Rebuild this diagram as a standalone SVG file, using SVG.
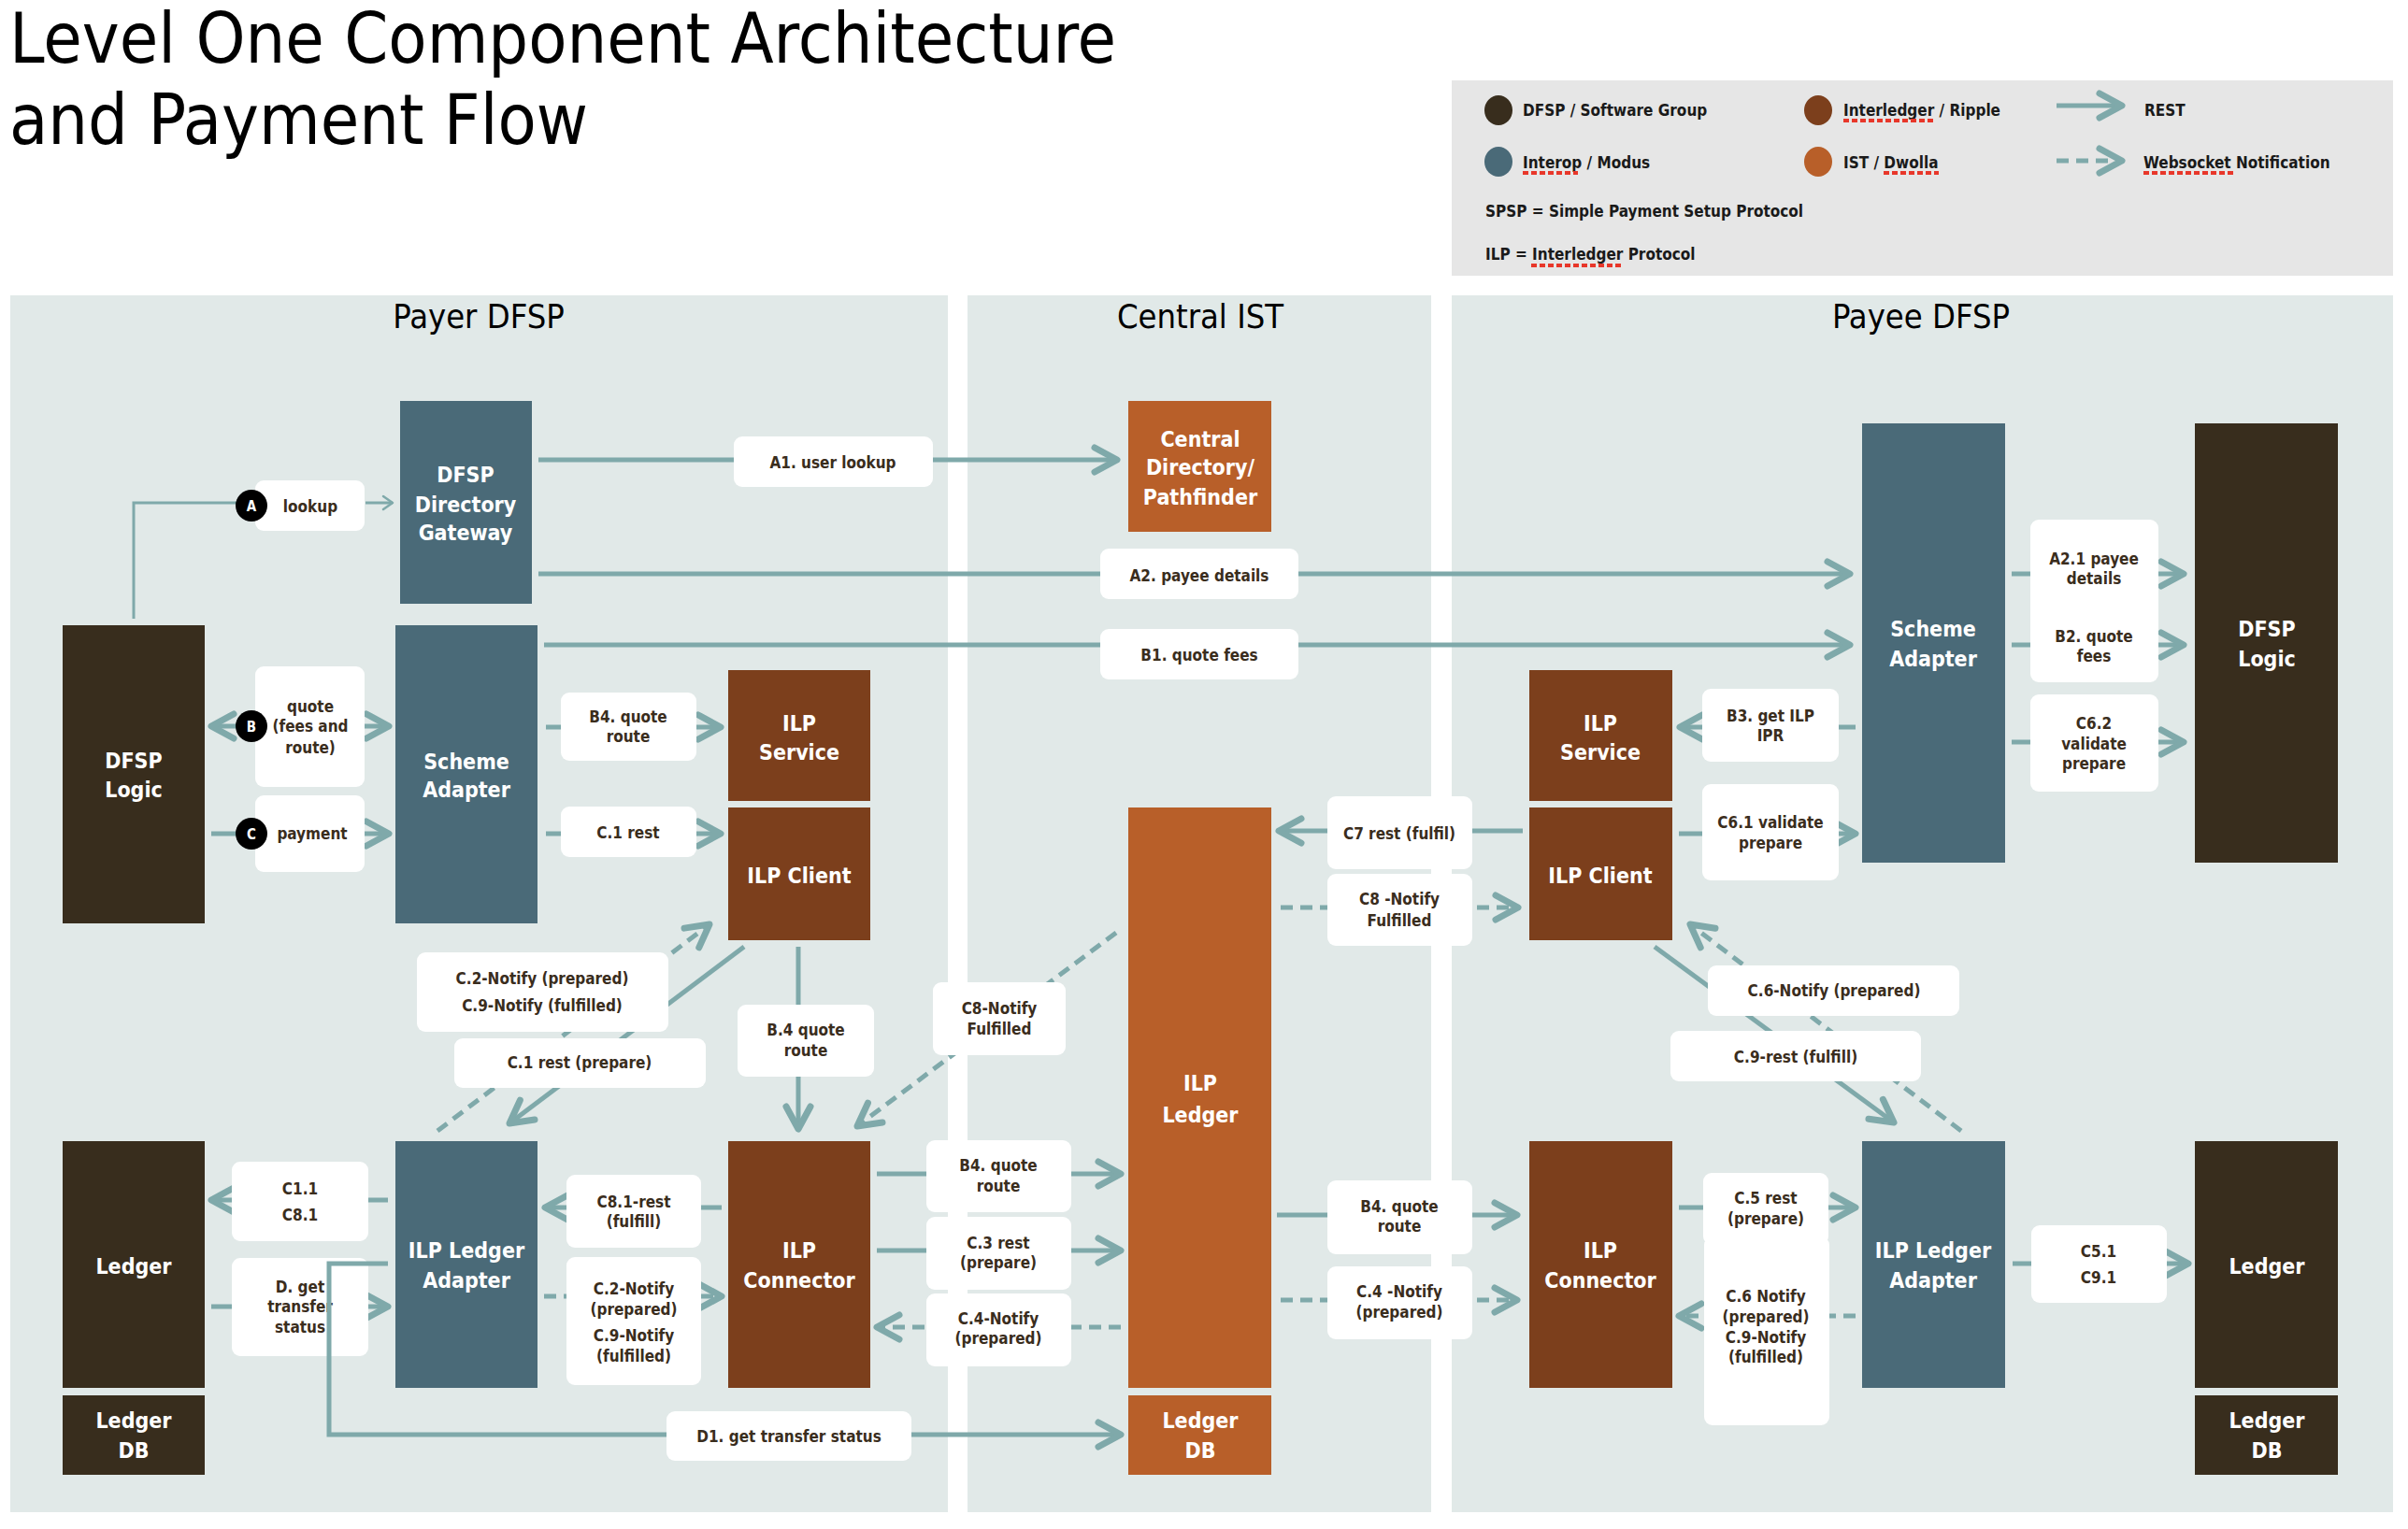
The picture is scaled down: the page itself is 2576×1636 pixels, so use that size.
<svg xmlns="http://www.w3.org/2000/svg" width="2576" height="1636" viewBox="0 0 2576 1636">
<style>
text{font-family:"DejaVu Sans Condensed","DejaVu Sans","Liberation Sans",sans-serif}
.title{font-size:75px;fill:#000}
.ptitle{font-size:36px;fill:#000;text-anchor:middle}
.leg{font-size:17px;font-weight:bold;fill:#1a1a1a}
.nt{font-size:23px;font-weight:bold;fill:#fff;text-anchor:middle}
.lt{font-size:17px;font-weight:bold;fill:#3a2d1d;text-anchor:middle}
.panel{fill:#e1e9e8}
.dfsp{fill:#382d1d}
.iop{fill:#4a6a78}
.ilp{fill:#7c3f1c}
.ist{fill:#b85f29}
.lb{fill:#fff}
.c{fill:none;stroke:#7fa9aa;stroke-width:5}
.d{stroke-dasharray:13 8}
.th{stroke-width:3}
.sq{fill:none;stroke:#e8372a;stroke-width:4;stroke-dasharray:6 3}
.badge{fill:#000}
.bt{font-size:15px;font-weight:bold;fill:#fff;text-anchor:middle}
</style>
<defs>
<marker id="ah" markerUnits="userSpaceOnUse" viewBox="-34 -20 40 40" markerWidth="40" markerHeight="40" refX="0" refY="0" orient="auto-start-reverse">
<path d="M-24,-13 L0,0 L-24,13" fill="none" stroke="#7fa9aa" stroke-width="7" stroke-linecap="round" stroke-linejoin="round"/>
</marker>
<marker id="as" markerUnits="userSpaceOnUse" viewBox="-14 -10 18 20" markerWidth="18" markerHeight="20" refX="0" refY="0" orient="auto">
<path d="M-10,-7 L0,0 L-10,7" fill="none" stroke="#7fa9aa" stroke-width="2.5" stroke-linecap="round" stroke-linejoin="round"/>
</marker>
</defs>
<rect width="2576" height="1636" fill="#fff"/>
<text class="title" x="10" y="67">Level One Component Architecture</text>
<text class="title" x="10" y="154">and Payment Flow</text>

<g id="legend">
<rect x="1553" y="86" width="1007" height="209" fill="#e6e6e6"/>
<ellipse cx="1603" cy="118" rx="15" ry="16" class="dfsp"/>
<ellipse cx="1945" cy="118" rx="15" ry="16" class="ilp"/>
<ellipse cx="1603" cy="173" rx="15" ry="16" class="iop"/>
<ellipse cx="1945" cy="173" rx="15" ry="16" class="ist"/>
<text class="leg" x="1629" y="124">DFSP / Software Group</text>
<text class="leg" x="1972" y="124">Interledger / Ripple</text>
<text class="leg" x="2294" y="124">REST</text>
<text class="leg" x="1629" y="180">Interop / Modus</text>
<text class="leg" x="1972" y="180">IST / Dwolla</text>
<text class="leg" x="2293" y="180">Websocket Notification</text>
<text class="leg" x="1589" y="232">SPSP = Simple Payment Setup Protocol</text>
<text class="leg" x="1589" y="278">ILP = Interledger Protocol</text>
<path class="c" d="M2200,113 H2270" marker-end="url(#ah)"/>
<path class="c d" d="M2200,172 H2270" marker-end="url(#ah)"/>
<path class="sq" d="M1972,129 H2068 M1629,185 H1688 M2015,185 H2074 M2293,185 H2389 M1638,284 H1734"/>
</g>

<g id="panels">
<rect class="panel" x="11" y="316" width="1003" height="1302"/>
<rect class="panel" x="1035" y="316" width="496" height="1302"/>
<rect class="panel" x="1553" y="316" width="1007" height="1302"/>
<text class="ptitle" x="512" y="351">Payer DFSP</text>
<text class="ptitle" x="1284" y="351">Central IST</text>
<text class="ptitle" x="2055" y="351">Payee DFSP</text>
</g>

<g id="payer-directory-gateway"><rect class="iop" x="428" y="429" width="141" height="217"/><text class="nt" x="498" y="516">DFSP</text><text class="nt" x="498" y="548">Directory</text><text class="nt" x="498" y="578">Gateway</text></g>
<g id="payer-dfsp-logic"><rect class="dfsp" x="67" y="669" width="152" height="319"/><text class="nt" x="143" y="822">DFSP</text><text class="nt" x="143" y="853">Logic</text></g>
<g id="payer-scheme-adapter"><rect class="iop" x="423" y="669" width="152" height="319"/><text class="nt" x="499" y="823">Scheme</text><text class="nt" x="499" y="853">Adapter</text></g>
<g id="payer-ilp-service"><rect class="ilp" x="779" y="717" width="152" height="140"/><text class="nt" x="855" y="782">ILP</text><text class="nt" x="855" y="813">Service</text></g>
<g id="payer-ilp-client"><rect class="ilp" x="779" y="864" width="152" height="142"/><text class="nt" x="855" y="945">ILP Client</text></g>
<g id="payer-ledger"><rect class="dfsp" x="67" y="1221" width="152" height="264"/><text class="nt" x="143" y="1363">Ledger</text></g>
<g id="payer-ledger-db"><rect class="dfsp" x="67" y="1493" width="152" height="85"/><text class="nt" x="143" y="1528">Ledger</text><text class="nt" x="143" y="1560">DB</text></g>
<g id="payer-ilp-ledger-adapter"><rect class="iop" x="423" y="1221" width="152" height="264"/><text class="nt" x="499" y="1346">ILP Ledger</text><text class="nt" x="499" y="1378">Adapter</text></g>
<g id="payer-ilp-connector"><rect class="ilp" x="779" y="1221" width="152" height="264"/><text class="nt" x="855" y="1346">ILP</text><text class="nt" x="855" y="1378">Connector</text></g>

<g id="central-directory"><rect class="ist" x="1207" y="429" width="153" height="140"/><text class="nt" x="1284" y="478">Central</text><text class="nt" x="1284" y="508">Directory/</text><text class="nt" x="1284" y="540">Pathfinder</text></g>
<g id="central-ilp-ledger"><rect class="ist" x="1207" y="864" width="153" height="621"/><text class="nt" x="1284" y="1167">ILP</text><text class="nt" x="1284" y="1201">Ledger</text></g>
<g id="central-ledger-db"><rect class="ist" x="1207" y="1493" width="153" height="85"/><text class="nt" x="1284" y="1528">Ledger</text><text class="nt" x="1284" y="1560">DB</text></g>

<g id="payee-scheme-adapter"><rect class="iop" x="1992" y="453" width="153" height="470"/><text class="nt" x="2068" y="681">Scheme</text><text class="nt" x="2068" y="713">Adapter</text></g>
<g id="payee-dfsp-logic"><rect class="dfsp" x="2348" y="453" width="153" height="470"/><text class="nt" x="2425" y="681">DFSP</text><text class="nt" x="2425" y="713">Logic</text></g>
<g id="payee-ilp-service"><rect class="ilp" x="1636" y="717" width="153" height="140"/><text class="nt" x="1712" y="782">ILP</text><text class="nt" x="1712" y="813">Service</text></g>
<g id="payee-ilp-client"><rect class="ilp" x="1636" y="864" width="153" height="142"/><text class="nt" x="1712" y="945">ILP Client</text></g>
<g id="payee-ilp-connector"><rect class="ilp" x="1636" y="1221" width="153" height="264"/><text class="nt" x="1712" y="1346">ILP</text><text class="nt" x="1712" y="1378">Connector</text></g>
<g id="payee-ilp-ledger-adapter"><rect class="iop" x="1992" y="1221" width="153" height="264"/><text class="nt" x="2068" y="1346">ILP Ledger</text><text class="nt" x="2068" y="1378">Adapter</text></g>
<g id="payee-ledger"><rect class="dfsp" x="2348" y="1221" width="153" height="264"/><text class="nt" x="2425" y="1363">Ledger</text></g>
<g id="payee-ledger-db"><rect class="dfsp" x="2348" y="1493" width="153" height="85"/><text class="nt" x="2425" y="1528">Ledger</text><text class="nt" x="2425" y="1560">DB</text></g>

<g id="connectors">
<path class="c th" d="M143,662 V538 H255"/>
<path class="c th" d="M391,538 H420" marker-end="url(#as)"/>
<path class="c" d="M226,777 H416" marker-start="url(#ah)" marker-end="url(#ah)"/>
<path class="c" d="M226,892 H416" marker-end="url(#ah)"/>
<path class="c" d="M576,492 H1195" marker-end="url(#ah)"/>
<path class="c" d="M576,614 H1979" marker-end="url(#ah)"/>
<path class="c" d="M582,690 H1979" marker-end="url(#ah)"/>
<path class="c" d="M584,778 H771" marker-end="url(#ah)"/>
<path class="c" d="M584,892 H771" marker-end="url(#ah)"/>
<path class="c" d="M796,1013 L545,1202" marker-end="url(#ah)"/>
<path class="c d" d="M468,1210 L759,989" marker-end="url(#ah)"/>
<path class="c" d="M854,1013 V1208" marker-end="url(#ah)"/>
<path class="c d" d="M1194,998 L917,1205" marker-end="url(#ah)"/>
<path class="c" d="M938,1256 H1199" marker-end="url(#ah)"/>
<path class="c" d="M938,1338 H1199" marker-end="url(#ah)"/>
<path class="c d" d="M1199,1420 H938" marker-end="url(#ah)"/>
<path class="c" d="M772,1292 H583" marker-end="url(#ah)"/>
<path class="c d" d="M582,1387 H772" marker-end="url(#ah)"/>
<path class="c" d="M415,1284 H226" marker-end="url(#ah)"/>
<path class="c" d="M226,1398 H415" marker-end="url(#ah)"/>
<path class="c" d="M2152,614 H2336" marker-end="url(#ah)"/>
<path class="c" d="M2152,690 H2336" marker-end="url(#ah)"/>
<path class="c" d="M2152,794 H2336" marker-end="url(#ah)"/>
<path class="c" d="M1985,778 H1797" marker-end="url(#ah)"/>
<path class="c" d="M1796,892 H1985" marker-end="url(#ah)"/>
<path class="c" d="M1629,889 H1368" marker-end="url(#ah)"/>
<path class="c d" d="M1370,971 H1624" marker-end="url(#ah)"/>
<path class="c" d="M1770,1013 L2026,1201" marker-end="url(#ah)"/>
<path class="c d" d="M2098,1210 L1808,989" marker-end="url(#ah)"/>
<path class="c" d="M1366,1300 H1623" marker-end="url(#ah)"/>
<path class="c d" d="M1370,1391 H1623" marker-end="url(#ah)"/>
<path class="c" d="M1796,1292 H1985" marker-end="url(#ah)"/>
<path class="c d" d="M1985,1408 H1796" marker-end="url(#ah)"/>
<path class="c" d="M2153,1352 H2341" marker-end="url(#ah)"/>

<g id="labels">
<rect class="lb" x="273" y="514" width="117" height="54" rx="9"/><text class="lt" x="332" y="548">lookup</text>
<rect class="lb" x="273" y="713" width="117" height="129" rx="9"/><text class="lt" x="332" y="762">quote</text><text class="lt" x="332" y="783">(fees and</text><text class="lt" x="332" y="806">route)</text>
<rect class="lb" x="273" y="851" width="117" height="82" rx="9"/><text class="lt" x="334" y="898">payment</text>
<rect class="lb" x="600" y="741" width="145" height="73" rx="9"/><text class="lt" x="672" y="773">B4. quote</text><text class="lt" x="672" y="794">route</text>
<rect class="lb" x="600" y="863" width="145" height="54" rx="9"/><text class="lt" x="672" y="897">C.1 rest</text>
<rect class="lb" x="446" y="1019" width="269" height="85" rx="9"/><text class="lt" x="580" y="1053">C.2-Notify (prepared)</text><text class="lt" x="580" y="1082">C.9-Notify (fulfilled)</text>
<rect class="lb" x="486" y="1111" width="269" height="53" rx="9"/><text class="lt" x="620" y="1143">C.1 rest (prepare)</text>
<rect class="lb" x="789" y="1075" width="146" height="77" rx="9"/><text class="lt" x="862" y="1108">B.4 quote</text><text class="lt" x="862" y="1130">route</text>
<rect class="lb" x="248" y="1243" width="146" height="85" rx="9"/><text class="lt" x="321" y="1278">C1.1</text><text class="lt" x="321" y="1306">C8.1</text>
<rect class="lb" x="248" y="1346" width="146" height="105" rx="9"/><text class="lt" x="321" y="1383">D. get</text><text class="lt" x="321" y="1404">transfer</text><text class="lt" x="321" y="1426">status</text>
<rect class="lb" x="606" y="1257" width="144" height="78" rx="9"/><text class="lt" x="678" y="1292">C8.1-rest</text><text class="lt" x="678" y="1313">(fulfill)</text>
<rect class="lb" x="606" y="1345" width="144" height="137" rx="9"/><text class="lt" x="678" y="1385">C.2-Notify</text><text class="lt" x="678" y="1407">(prepared)</text><text class="lt" x="678" y="1435">C.9-Notify</text><text class="lt" x="678" y="1457">(fulfilled)</text>
<rect class="lb" x="991" y="1220" width="155" height="77" rx="9"/><text class="lt" x="1068" y="1253">B4. quote</text><text class="lt" x="1068" y="1275">route</text>
<rect class="lb" x="991" y="1302" width="155" height="78" rx="9"/><text class="lt" x="1068" y="1336">C.3 rest</text><text class="lt" x="1068" y="1357">(prepare)</text>
<rect class="lb" x="991" y="1384" width="155" height="78" rx="9"/><text class="lt" x="1068" y="1417">C.4-Notify</text><text class="lt" x="1068" y="1438">(prepared)</text>
<rect class="lb" x="785" y="467" width="213" height="54" rx="9"/><text class="lt" x="891" y="501">A1. user lookup</text>
<rect class="lb" x="1177" y="587" width="212" height="54" rx="9"/><text class="lt" x="1283" y="622">A2. payee details</text>
<rect class="lb" x="1177" y="673" width="212" height="54" rx="9"/><text class="lt" x="1283" y="707">B1. quote fees</text>
<rect class="lb" x="998" y="1051" width="142" height="78" rx="9"/><text class="lt" x="1069" y="1085">C8-Notify</text><text class="lt" x="1069" y="1107">Fulfilled</text>
<rect class="lb" x="1420" y="852" width="155" height="78" rx="9"/><text class="lt" x="1497" y="898">C7 rest (fulfil)</text>
<rect class="lb" x="1420" y="935" width="155" height="77" rx="9"/><text class="lt" x="1497" y="968">C8 -Notify</text><text class="lt" x="1497" y="991">Fulfilled</text>
<rect class="lb" x="1420" y="1263" width="155" height="79" rx="9"/><text class="lt" x="1497" y="1297">B4. quote</text><text class="lt" x="1497" y="1318">route</text>
<rect class="lb" x="1420" y="1355" width="155" height="78" rx="9"/><text class="lt" x="1497" y="1388">C.4 -Notify</text><text class="lt" x="1497" y="1410">(prepared)</text>
<rect class="lb" x="2172" y="556" width="137" height="174" rx="9"/><text class="lt" x="2240" y="604">A2.1 payee</text><text class="lt" x="2240" y="625">details</text><text class="lt" x="2240" y="687">B2. quote</text><text class="lt" x="2240" y="708">fees</text>
<rect class="lb" x="2172" y="743" width="137" height="104" rx="9"/><text class="lt" x="2240" y="780">C6.2</text><text class="lt" x="2240" y="802">validate</text><text class="lt" x="2240" y="823">prepare</text>
<rect class="lb" x="1821" y="737" width="146" height="78" rx="9"/><text class="lt" x="1894" y="772">B3. get ILP</text><text class="lt" x="1894" y="793">IPR</text>
<rect class="lb" x="1821" y="839" width="146" height="103" rx="9"/><text class="lt" x="1894" y="886">C6.1 validate</text><text class="lt" x="1894" y="908">prepare</text>
<rect class="lb" x="1827" y="1033" width="269" height="54" rx="9"/><text class="lt" x="1962" y="1066">C.6-Notify (prepared)</text>
<rect class="lb" x="1787" y="1103" width="268" height="54" rx="9"/><text class="lt" x="1921" y="1137">C.9-rest (fulfill)</text>
<rect class="lb" x="1822" y="1255" width="134" height="77" rx="9"/><text class="lt" x="1889" y="1288">C.5 rest</text><text class="lt" x="1889" y="1310">(prepare)</text>
<rect class="lb" x="1823" y="1323" width="134" height="202" rx="9"/><text class="lt" x="1889" y="1393">C.6 Notify</text><text class="lt" x="1889" y="1415">(prepared)</text><text class="lt" x="1889" y="1437">C.9-Notify</text><text class="lt" x="1889" y="1458">(fulfilled)</text>
<rect class="lb" x="2173" y="1311" width="145" height="83" rx="9"/><text class="lt" x="2245" y="1345">C5.1</text><text class="lt" x="2245" y="1373">C9.1</text>
</g>
<g id="badges">
<circle class="badge" cx="269" cy="541" r="17"/><text class="bt" x="269" y="547">A</text>
<circle class="badge" cx="269" cy="777" r="17"/><text class="bt" x="269" y="783">B</text>
<circle class="badge" cx="269" cy="892" r="17"/><text class="bt" x="269" y="898">C</text>
</g>
<path class="c" d="M415,1352 H352 V1535 H1199" marker-end="url(#ah)"/>
<rect class="lb" x="713" y="1510" width="262" height="53" rx="9"/><text class="lt" x="844" y="1543">D1. get transfer status</text>
</g>
</svg>
